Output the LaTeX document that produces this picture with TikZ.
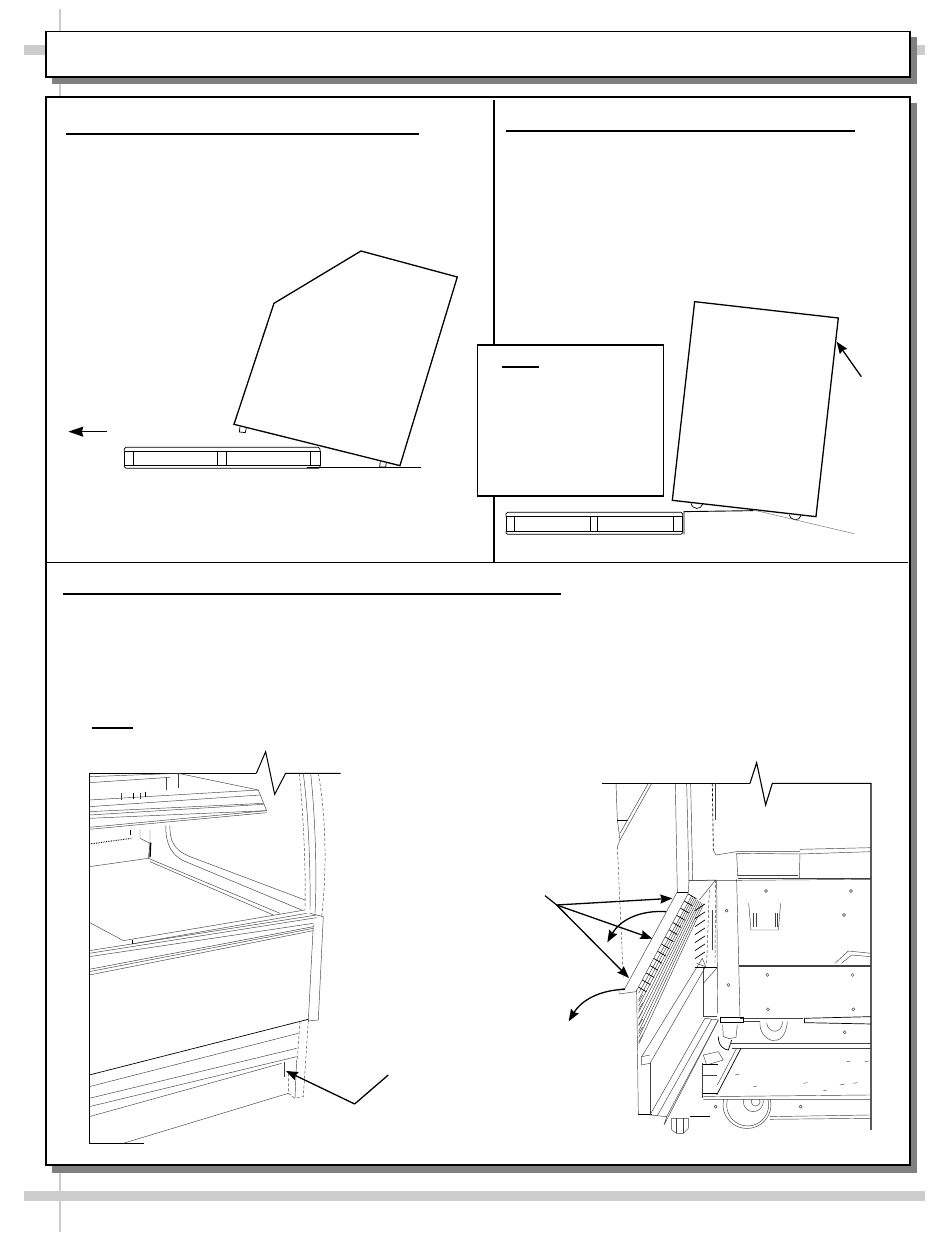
\documentclass[tikz,border=0pt]{standalone}
\usepackage{tikz}
\usetikzlibrary{arrows.meta}

\begin{document}
\begin{tikzpicture}[x=1pt,y=-1pt,>={Stealth[length=12pt,width=9pt,inset=1.5pt]}]
	\tikzstyle{every node}=[inner sep=0pt,outer sep=0pt]
	\tikzstyle{panel}=[draw,line width=1.8pt,fill=white,rectangle]
	\tikzstyle{dropfill}=[fill=black!50]
	\tikzstyle{cropband}=[fill=black!20]
	\tikzstyle{titlerule}=[line width=2pt]
	\tikzstyle{outline}=[line width=1.3pt,line join=miter]
	\tikzstyle{thinline}=[line width=.7pt]
	\tikzstyle{detail}=[line width=.45pt,black!75]
	\tikzstyle{heavy}=[line width=1.4pt]
	\tikzstyle{pointer}=[line width=1.3pt,->]

	\useasboundingbox (0,0) rectangle (950,1241);

	\fill[cropband] (59.3,9) rectangle (60.8,1232);
	\fill[cropband] (24,45) rectangle (925,55);
	\fill[cropband] (24,1191) rectangle (925,1201);
	\fill[dropfill] (52,37) rectangle (917,84);
	\fill[dropfill] (52,103) rectangle (917,1172.5);

	\node[panel,minimum width=864pt,minimum height=45.5pt] (header) at (478,54.3) {};
	\node[panel,minimum width=864pt,minimum height=1067.5pt] (body) at (478,631) {};

	\draw[titlerule] (494,100) -- (494,562);
	\draw[thinline,line width=1pt] (46,562.5) -- (908,562.5);
	\draw[titlerule] (66,134.5) -- (419,134.5);
	\draw[titlerule] (506,131.5) -- (855,131.5);
	\draw[titlerule] (63,594) -- (561,594);
	\draw[titlerule] (92,728) -- (133,728);

	\begin{scope}[shift={(60,240)},x=.3333pt,y=-.3333pt]
		\draw[outline] (903,33) -- (1192,111) -- (1020,677) -- (522,553) -- (642,190) -- cycle;
		\draw[thinline] (540,560) -- (538,576) -- (556,578) -- (559,564);
		\draw[thinline] (961,664) -- (959,681) -- (977,681) -- (979,668);
		\draw[thinline,rounded corners=1.5pt] (193,634) -- (193,622) -- (780,622) -- (780,634);
		\draw[thinline,rounded corners=1.5pt] (193,675) -- (193,685) -- (780,685) -- (780,675);
		\draw[thinline] (193,634) rectangle (780,675);
		\foreach \xpos in {219,472,498,752}
			\draw[thinline] (\xpos,634) -- (\xpos,675);
		\draw[thinline,line width=.9pt] (740,683) -- (1083,683);
		\draw[heavy] (740,683) -- (775,683);
		\coordinate (moveend) at (25,575);
		\coordinate (movestart) at (140,575);
		\path[pointer,>={Stealth[length=15pt,width=10pt,inset=1.5pt]}] (movestart) edge (moveend);
	\end{scope}

	\begin{scope}[shift={(470,290)},x=.3333pt,y=-.3333pt]
		\draw[outline] (674,35) -- (1105,84) -- (1038,680) -- (607,631) -- cycle;
		\draw[thinline] (663,640) .. controls (668,660) and (692,660) .. (698,643);
		\draw[thinline] (958,674) .. controls (963,694) and (988,694) .. (993,677);
		\draw[thinline,rounded corners=1.5pt] (108,679) -- (108,667) -- (638,667) -- (638,679);
		\draw[thinline,rounded corners=1.5pt] (108,724) -- (108,733) -- (638,733) -- (638,724);
		\draw[thinline] (108,679) rectangle (638,724);
		\foreach \xpos in {133,361,383,611}
			\draw[thinline] (\xpos,679) -- (\xpos,724);
		\draw[thinline,line width=.9pt] (642,733) -- (642,665) -- (850,662);
		\draw[detail,black!55] (850,660) -- (1152,731);
		\coordinate (sideend) at (1100,155);
		\coordinate (sidestart) at (1174,260);
		\path[pointer] (sidestart) edge (sideend);
	\end{scope}

	\node[panel,line width=1.5pt,minimum width=186pt,minimum height=151pt,anchor=north west] (note) at (477.5,345) {};
	\draw[titlerule,line width=1.4pt] (502,367) -- (539,367);

	\begin{scope}[shift={(60,740)},x=.3333pt,y=-.3333pt]
		\draw[line width=1pt] (589,100) -- (617,35) -- (644,163) -- (677,100) -- (842,100);
		\draw[line width=1pt] (589,100) -- (88,100) -- (88,1210) -- (252,1210);

		\draw[detail] (355,100) -- (595,150) -- (620,212);
		\draw[detail] (88,110) -- (355,100);
		\draw[detail] (88,128) -- (330,112);
		\draw[detail] (320,112) -- (320,150) (355,100) -- (355,145);
		\draw[detail] (88,180) -- (595,150);
		\draw[detail] (88,200) -- (600,165);
		\draw[detail] (88,215) -- (610,190);
		\draw[detail] (88,225) -- (610,193);
		\draw[detail] (88,235) -- (620,212);
		\draw[detail] (88,262) -- (620,212);
		\draw[detail] (88,268) -- (620,218);
		\draw[detail] (183,160) -- (183,180) (240,158) -- (240,176);
		\draw[thinline] (220,158) -- (220,178) (255,155) -- (255,172);
		\draw[detail] (240,268) -- (240,295) -- (270,310) -- (270,270);
		\draw[thinline] (210,270) -- (210,285);
		\draw[thinline,densely dotted,line width=1pt] (88,312) -- (215,295);
		\draw[detail] (88,380) -- (265,355) -- (270,310);
		\draw[heavy] (272,308) -- (270,352);
		\draw[detail] (265,355) -- (660,520);
		\draw[detail] (270,365) -- (640,525);
		\draw[detail] (318,255) .. controls (315,310) and (335,345) .. (370,362) -- (725,510);
		\draw[detail] (330,255) .. controls (328,305) and (345,330) .. (385,348) -- (735,480);

		\draw[detail] (190,602) -- (88,547);
		\draw[detail] (190,602) -- (735,510);
		\draw[detail] (215,612) -- (740,520);
		\draw[heavy] (218,600) -- (218,612);
		\draw[detail] (88,632) -- (770,525);
		\draw[detail] (88,640) -- (770,533);
		\draw[detail] (88,650) -- (760,550);
		\draw[detail] (88,688) -- (760,560);
		\draw[detail] (88,695) -- (760,565);
		\draw[detail] (88,705) -- (760,572);

		\draw[detail,densely dashed] (718,100) .. controls (730,220) and (738,380) .. (735,510);
		\draw[detail] (730,100) .. controls (745,220) and (752,380) .. (750,510);
		\draw[detail] (752,100) .. controls (765,220) and (772,400) .. (765,520);
		\draw[detail,densely dashed] (775,100) .. controls (800,240) and (800,400) .. (785,530);
		\draw[detail] (750,520) -- (790,530) -- (775,840) -- (745,843) -- (760,555);

		\draw[thinline] (88,1005) -- (745,838);
		\draw[detail] (88,1040) -- (715,880);
		\draw[detail] (88,1075) -- (710,925);
		\draw[detail] (88,1100) -- (710,950);
		\draw[detail] (88,1130) -- (665,970);
		\draw[detail] (190,1210) -- (685,1060);
		\draw[detail,densely dashed] (720,843) -- (712,960);
		\draw[detail] (672,965) -- (672,1010);
		\draw[detail,densely dashed] (685,1000) -- (685,1060) -- (705,1075) -- (730,1070) -- (745,843);
		\draw[detail] (710,960) -- (705,1075);

		\coordinate (footend) at (678,993);
		\coordinate (footbend) at (884,1092);
		\coordinate (footstart) at (985,1005);
		\draw[line width=1.3pt] (footstart) -- (footbend);
		\path[pointer] (footbend) edge (footend);
	\end{scope}

	\begin{scope}[shift={(540,750)},x=.3333pt,y=-.3333pt]
		\draw[line width=.9pt] (630,100) -- (185,100);
		\draw[line width=1.1pt] (630,100) -- (650,38) -- (677,165) -- (697,100) -- (993,100) -- (993,1140);

		\draw[detail] (228,100) -- (232,210) -- (240,270) -- (232,290);
		\draw[thinline] (232,210) -- (265,210);
		\draw[detail] (335,100) -- (240,270) (325,100) -- (240,250);
		\draw[detail,densely dashed] (232,290) -- (250,682);
		\draw[detail] (406,100) -- (412,425);
		\draw[detail] (440,100) -- (447,395);
		\draw[detail] (452,100) -- (458,390);

		\draw[thinline,densely dashed] (517,100) -- (520,300);
		\draw[detail] (527,100) -- (527,210);
		\draw[detail] (520,300) -- (528,315) -- (590,305);
		\draw[detail] (590,305) -- (780,305) (780,298) -- (993,293);
		\draw[detail] (590,310) -- (780,312) -- (993,305);
		\draw[detail] (590,310) -- (593,378);
		\draw[detail] (780,310) -- (778,385);
		\draw[detail] (593,375) -- (775,375);
		\draw[detail] (593,385) -- (993,385);

		\draw[detail] (447,392) -- (993,388);
		\draw[detail] (530,392) -- (533,790);
		\draw[detail] (590,388) -- (600,800);
		\foreach \xpos/\ypos in {678/423,933/423,560/482,565/705,682/675,938/675,684/778,940/778,914/847,527/1070,782/1070,912/495}
			\draw[detail] (\xpos,\ypos) circle (1.5pt);
		\draw[detail] (626,460) -- (633,540) -- (715,540) -- (722,460);
		\draw[detail] (640,490) -- (640,530) (705,490) -- (705,530) (648,490) -- (648,530) (712,490) -- (712,530);
		\draw[detail] (596,645) -- (993,645) (596,650) -- (993,650);
		\draw[detail] (885,640) -- (925,603) -- (993,610) (905,640) -- (935,615) -- (993,620);

		\draw[detail] (600,805) -- (790,805);
		\draw[detail] (610,815) -- (660,815);
		\draw[thinline] (792,805) -- (792,818);
		\draw[thinline] (792,805) -- (993,800) (792,818) -- (993,822);
		\draw[detail] (660,815) .. controls (655,875) and (735,905) .. (742,815);
		\draw[detail] (680,820) .. controls (685,850) and (725,855) .. (728,815);
		\draw[heavy] (540,802) -- (610,802);
		\draw[thinline] (540,800) -- (540,817) -- (610,817) -- (610,800);

		\draw[detail] (548,825) -- (550,860) -- (568,866) -- (588,862) -- (592,825);
		\draw[thinline] (535,860) .. controls (535,890) and (555,900) .. (565,900) -- (575,870);
		\draw[detail] (490,915) -- (535,905) -- (550,930) -- (500,945) -- cycle;
		\draw[detail] (570,880) -- (993,880) (575,895) -- (993,895);
		\draw[thinline] (603,895) -- (530,1035);
		\draw[detail] (590,895) -- (532,1005);
		\draw[detail] (490,1040) -- (993,1035) (490,1048) -- (993,1048);
		\draw[heavy] (490,943) -- (535,943) (490,1030) -- (532,1030);
		\draw[detail] (488,940) -- (488,1045);
		\draw[detail] (490,975) -- (530,975);

		\begin{scope}
			\clip (530,1048) rectangle (710,1170);
			\draw[detail] (621,1065) ellipse (24pt and 23.5pt);
			\draw[detail] (623,1065) ellipse (21pt and 21pt);
			\draw[detail] (640,1055) ellipse (10pt and 10pt);
			\draw[detail] (647,1055) ellipse (4.5pt and 4.5pt);
		\end{scope}
		\draw[detail] (690,1100) -- (993,1095) (690,1108) -- (993,1105);
		\foreach \xpos/\ypos in {920/935,850/1022,900/1005,790/1000,640/1010,585/975,975/935,940/1000}
			\draw[detail] (\xpos,\ypos) -- +(12,-2);

		\draw[detail] (495,805) -- (535,810) -- (380,1100) -- (330,1095) -- cycle;
		\draw[detail] (515,808) -- (352,1097);
		\draw[detail] (535,810) -- (372,1125) -- (380,1100);
		\draw[detail] (290,720) -- (295,1095);
		\draw[thinline,line width=1pt] (295,1095) -- (335,1095);
		\draw[detail] (330,940) -- (330,1095);
		\draw[thinline] (450,1100) -- (510,1100);
		\draw[detail] (395,1105) -- (395,1140) -- (410,1150) -- (430,1150) -- (445,1135) -- (445,1105) -- cycle;
		\draw[detail] (410,1105) -- (410,1150) (430,1105) -- (430,1150);

		\draw[detail] (412,425) -- (255,715) -- (237,718) -- (237,732) -- (288,725);
		\draw[detail] (445,430) -- (288,725);
		\draw[heavy] (412,428) -- (445,428);
		\foreach \row in {0,...,8}
			\draw[detail] ({455+4.5*\row},{438+3*\row}) -- (296,{730+19*\row});
		\foreach \rung in {0,...,13}
			\draw[thinline] ({445-11.5*\rung},{432+21.5*\rung}) -- ++(24,14);
		\foreach \tick in {0,...,6}
			\draw[thinline] (465,{482+24*\tick}) -- ++(30,-20);
		\foreach \tick in {0,...,5}
			\draw[detail] (296,{755+24*\tick}) -- ++(12,-20);
		\draw[detail] (487,625) -- (305,920) -- (305,945) -- (330,940) -- (497,650) -- cycle;
		\draw[detail] (305,920) -- (330,915) (470,640) -- (497,650);

		\draw[detail] (447,392) -- (527,390) -- (478,450);
		\draw[detail] (447,392) -- (445,428);
		\draw[detail,densely dashed] (527,390) -- (525,640);
		\draw[detail,densely dashed] (508,420) -- (500,640);
		\draw[detail] (516,480) -- (516,600);
		\draw[heavy] (465,652) -- (530,652);
		\draw[detail] (490,655) -- (490,800) -- (532,800);
		\draw[detail] (490,700) -- (530,655);

		\coordinate (fanstart) at (15,437);
		\coordinate (fanapex) at (50,465);
		\coordinate (faster1) at (397,445);
		\coordinate (faster2) at (337,566);
		\coordinate (faster3) at (267,684);
		\coordinate (swing1start) at (378,485);
		\coordinate (swing1end) at (202,577);
		\coordinate (swing2start) at (255,718);
		\coordinate (swing2end) at (86,814);
		\draw[line width=1.2pt] (fanstart) -- (fanapex);
		\path[pointer]
		(fanapex) edge (faster1)
		(fanapex) edge (faster2)
		(fanapex) edge (faster3);
		\draw[pointer] (swing1start) .. controls (300,480) and (240,510) .. (swing1end);
		\draw[pointer] (swing2start) .. controls (180,720) and (125,750) .. (swing2end);
	\end{scope}
\end{tikzpicture}
\end{document}
